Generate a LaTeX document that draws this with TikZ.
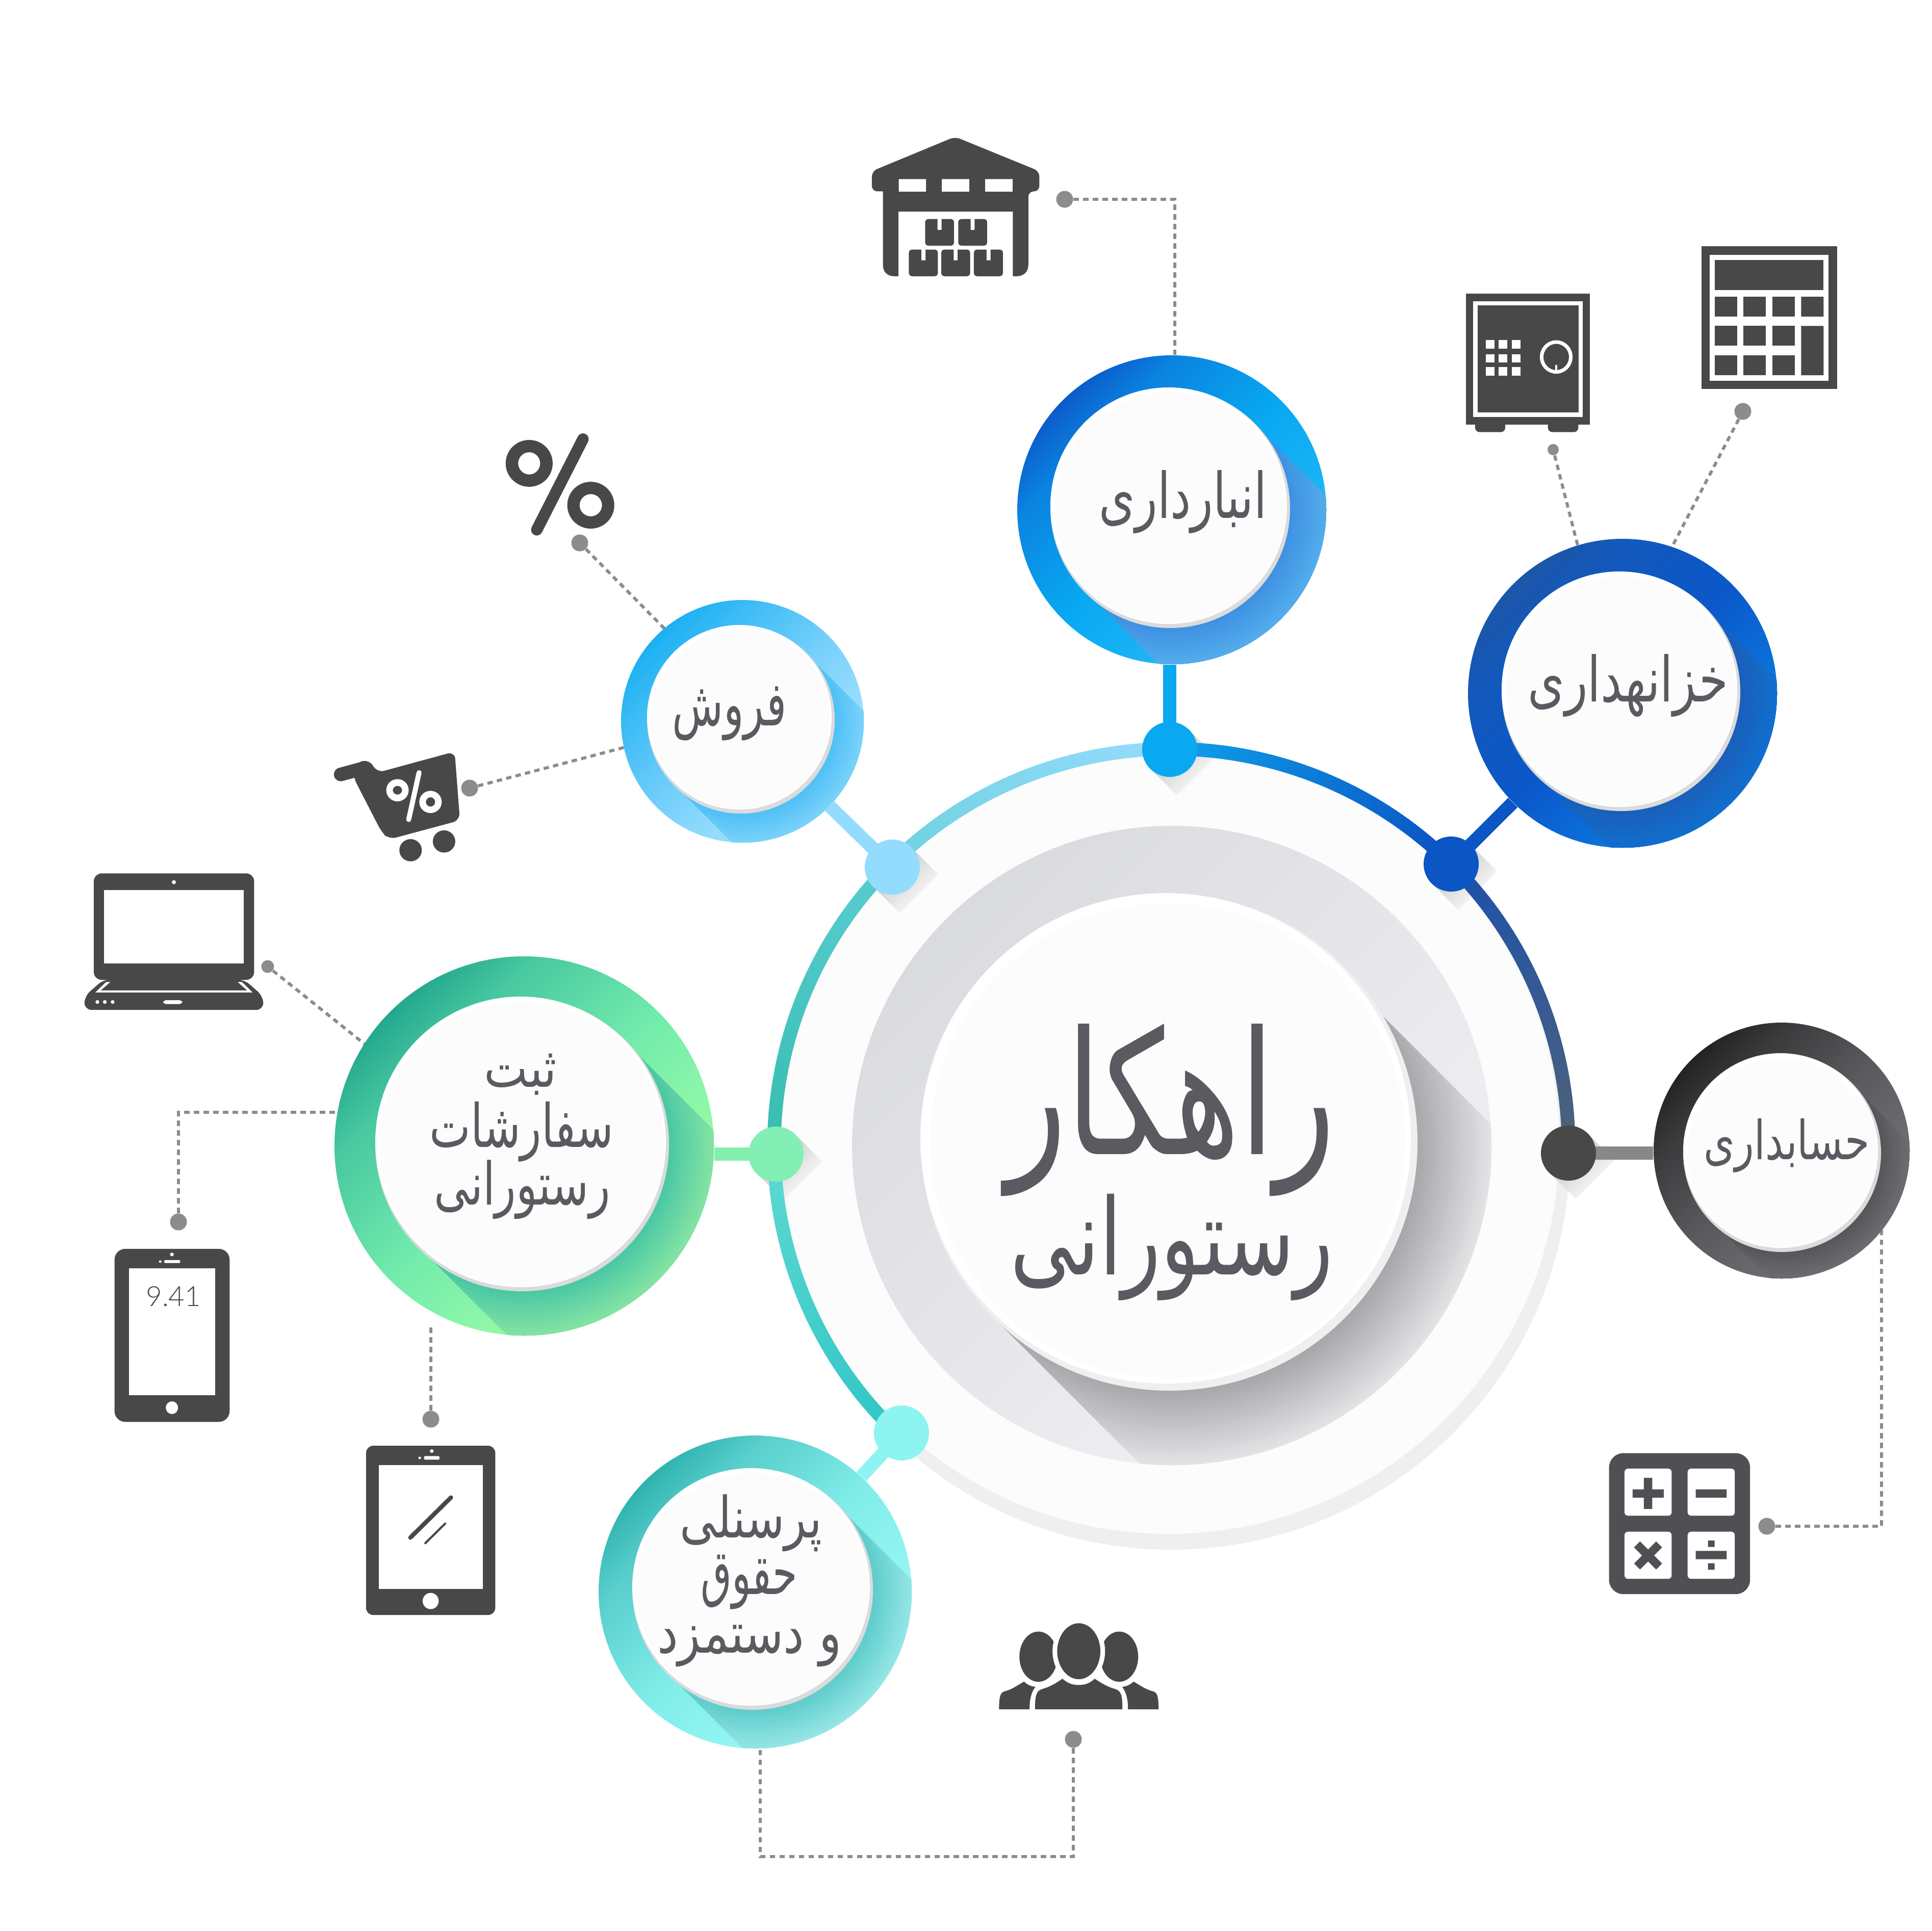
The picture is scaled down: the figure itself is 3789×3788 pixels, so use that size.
\documentclass[tikz,border=0pt]{standalone}
\usepackage{fontspec}
\usetikzlibrary{shapes.geometric}
\TeXXeTstate=1
\newfontfamily\arabicfont[Script=Arabic]{DejaVu Sans}
\newfontfamily\thinfont{Lato Light}
\definecolor{ic}{HTML}{484848}
\definecolor{icb}{HTML}{4F4F54}
\definecolor{dg}{HTML}{8C8C8C}
\definecolor{tx}{HTML}{5A5A60}
\definecolor{shlight}{HTML}{E4E4E6}
\definecolor{shdark}{HTML}{A8A8AA}
\definecolor{plateg}{HTML}{EEEFF1}
\definecolor{platew}{HTML}{FCFCFD}
\definecolor{mida}{HTML}{DADBDF}
\definecolor{midb}{HTML}{F2F2F5}
\definecolor{hubA}{HTML}{0AA8F0}
\definecolor{hubB}{HTML}{0B55C4}
\definecolor{hubC}{HTML}{93DCFD}
\definecolor{hubD}{HTML}{484848}
\definecolor{hubE}{HTML}{82F0B4}
\definecolor{hubF}{HTML}{8EF4F2}
\definecolor{lnkD}{HTML}{888888}
\definecolor{lnkE}{HTML}{82F0AA}
\definecolor{c1a}{HTML}{3ABFF8}\definecolor{c1b}{HTML}{18B2F5}\definecolor{c1c}{HTML}{08A8F2}\definecolor{c1d}{HTML}{0B84E0}\definecolor{c1e}{HTML}{0B5CCB}
\definecolor{c2a}{HTML}{0A86E3}\definecolor{c2b}{HTML}{0B6ED8}\definecolor{c2c}{HTML}{0B58CA}\definecolor{c2d}{HTML}{1358BC}\definecolor{c2e}{HTML}{1C57A8}
\definecolor{c3a}{HTML}{A8E4FF}\definecolor{c3b}{HTML}{94DCFD}\definecolor{c3c}{HTML}{74CFFB}\definecolor{c3d}{HTML}{3ABBF5}\definecolor{c3e}{HTML}{1CB0F2}
\definecolor{c4a}{HTML}{A8F89F}\definecolor{c4b}{HTML}{8DF7A8}\definecolor{c4c}{HTML}{72EBAC}\definecolor{c4d}{HTML}{48C8A0}\definecolor{c4e}{HTML}{24A88E}
\definecolor{c5a}{HTML}{B0F3F1}\definecolor{c5b}{HTML}{90F4F1}\definecolor{c5c}{HTML}{80ECE8}\definecolor{c5d}{HTML}{58CECC}\definecolor{c5e}{HTML}{2FB3AF}
\definecolor{c6a}{HTML}{78787D}\definecolor{c6b}{HTML}{69696D}\definecolor{c6c}{HTML}{5A5A5E}\definecolor{c6d}{HTML}{3A3A3C}\definecolor{c6e}{HTML}{232323}
\newcommand\ringshade[1]{\pgfdeclareverticalshading{ringsh#1}{100bp}{color(0bp)=(c#1a);color(25bp)=(c#1a);color(37.5bp)=(c#1b);color(50bp)=(c#1c);color(66.75bp)=(c#1d);color(75bp)=(c#1e);color(100bp)=(c#1e)}}
\ringshade{1}\ringshade{2}\ringshade{3}\ringshade{4}\ringshade{5}\ringshade{6}
\definecolor{b1a}{HTML}{3D90E2}\definecolor{b1b}{HTML}{5CB8EF}
\definecolor{b2a}{HTML}{1B5FB8}\definecolor{b2b}{HTML}{0C74D8}
\definecolor{b3a}{HTML}{4DBFF5}\definecolor{b3b}{HTML}{8BD9FD}
\definecolor{b4a}{HTML}{48C6A5}\definecolor{b4b}{HTML}{9CF0A2}
\definecolor{b5a}{HTML}{5CCBCB}\definecolor{b5b}{HTML}{A8F0EE}
\definecolor{b6a}{HTML}{55555A}\definecolor{b6b}{HTML}{78787D}
\definecolor{a1}{HTML}{0E9FEA}\definecolor{a2}{HTML}{0B50C0}
\definecolor{a3}{HTML}{1C52AC}\definecolor{a4}{HTML}{4F6278}
\definecolor{a5}{HTML}{6FD2E2}\definecolor{a6}{HTML}{95DCFC}
\definecolor{a7}{HTML}{38BDB0}\definecolor{a8}{HTML}{5ACDD2}
\definecolor{a9}{HTML}{2FC6C5}\definecolor{a0}{HTML}{5FD8D2}
\tikzset{
  px/.style={x=0.01cm,y=-0.01cm},
  bigdot/.style={circle,inner sep=0pt,minimum size=1.08cm},
  smalldot/.style={circle,inner sep=0pt,minimum size=0.33cm,fill=dg},
  dashline/.style={draw=dg,line width=1.7pt,dash pattern=on 3pt off 2.4pt},
  hublink/.style={line width=7.4pt},
  lbl/.style={text=tx,align=center,inner sep=0pt},
}
% width cm, total height cm, text
\newcommand\artext[3]{\resizebox*{#1cm}{#2cm}{\arabicfont\fontsize{30}{36}\selectfont #3}}
% name, cx, cy, R, disc x, disc y, r, shading no., band colour no.
\newcommand\ringdisc[9]{%
  \node[circle,inner sep=0pt,minimum size={2*#4*0.01cm},shade,shading=ringsh#8,shading angle=45] (#1) at (#2,#3) {};
  \begin{scope}
    \clip (#2,#3) circle[radius=#4];
    \clip ({#5+0.7*#7},{#6-0.7*#7}) -- ({#5+0.7*#7+2*#4},{#6-0.7*#7+2*#4}) -- ({#5-0.7*#7+2*#4},{#6+0.7*#7+2*#4}) -- ({#5-0.7*#7},{#6+0.7*#7}) -- cycle;
    \foreach \k in {16,15,...,0}{%
      \pgfmathtruncatemacro\pp{\k*100/16}%
      \fill[b#9b!\pp!b#9a] (#5,#6) circle[radius={#7+(1.12*#4-#7)*\k/16}];
    }
  \end{scope}
  \fill[black!14] (#5,#6) circle[radius=#7];
  \fill[white] ({#5-3},{#6-5}) circle[radius={#7-3}];
  \fill[platew] ({#5-1},{#6-1}) circle[radius={#7-9}];
}
\newcommand\dotshadow[2]{%
  \shade[top color=black!25,bottom color=white,shading angle=45]
    ({#1+38},{#2-38}) -- ({#1+90},{#2+14}) -- ({#1+14},{#2+90}) -- ({#1-38},{#2+38}) -- cycle;
}
% a1, a2, colour a, colour b
\newcommand\gradarc[4]{%
  \foreach \i in {0,...,39}{%
    \pgfmathsetmacro\aa{#1+(#2-#1)*\i/40}%
    \pgfmathsetmacro\ab{#1+(#2-#1)*(\i+1.1)/40}%
    \pgfmathtruncatemacro\pp{\i*100/39}%
    \draw[line width=7.6pt,color=#4!\pp!#3] ({2297+779*cos(\aa)},{2248+779*sin(\aa)}) -- ({2297+779*cos(\ab)},{2248+779*sin(\ab)});
  }%
}
\begin{document}
\begin{tikzpicture}[px]
\useasboundingbox (0,0) rectangle (3789,3788);
\fill[white] (0,0) rectangle (3789,3788);
% plate
\fill[plateg] (2297,2258) circle[radius=782];
\fill[platew] (2292,2243) circle[radius=766];
% mid disc
\shade[top color=mida,bottom color=midb,shading angle=45] (2298,2247) circle[radius=627];
\begin{scope}
  \clip (2298,2247) circle[radius=627];
  \clip (2626,1908) -- (3626,2908) -- (2949,3585) -- (1949,2585) -- cycle;
  \foreach \r in {640,634,...,478}{%
    \pgfmathtruncatemacro\pp{min(100,max(0,(\r-485)*100/145))}%
    \fill[shlight!\pp!shdark] (2298,2247) circle[radius=\r];
  }
\end{scope}
% central disc
\fill[plateg] (2293,2241) circle[radius=487];
\fill[white] (2286,2233) circle[radius=481];
\fill[platew] (2290,2238) circle[radius=466];
\node[lbl] (title1) at (2296,2178) {\artext{6.45}{3.38}{\beginR راهکار\endR}};
\node[lbl] (title2) at (2298,2447) {\artext{6.33}{2.09}{\beginR رستورانی\endR}};
% main arcs
\dotshadow{2294}{1470}
\dotshadow{2846}{1695}
\dotshadow{3076}{2262}
\dotshadow{1750}{1701}
\dotshadow{1522}{2264}
\gradarc{-90}{-45}{a1}{a2}
\gradarc{-45}{1}{a3}{a4}
\gradarc{-135}{-90}{a5}{a6}
\gradarc{179}{225}{a7}{a8}
\gradarc{133}{179}{a9}{a0}
% grey end dots
\node[smalldot] (pW) at (2088,391) {};
\node[smalldot,minimum size=0.22cm] (pS) at (3046,882) {};
\node[smalldot] (pC) at (3418,807) {};
\node[smalldot] (pP) at (1137,1065) {};
\node[smalldot] (pK) at (921,1546) {};
\node[smalldot,minimum size=0.25cm] (pL) at (525,1896) {};
\node[smalldot] (pM) at (350,2397) {};
\node[smalldot] (pT) at (845,2784) {};
\node[smalldot] (pG) at (2105,3412) {};
\node[smalldot] (pH) at (3465,2994) {};
\coordinate (xA) at (2304,720);
\coordinate (xB) at (3098,1085);
\coordinate (xC) at (3270,1090);
\coordinate (xD) at (1310,1240);
\coordinate (xE) at (1240,1462);
\coordinate (xF) at (730,2060);
\coordinate (xG) at (680,2182);
\coordinate (xH) at (845,2600);
\coordinate (xI) at (1491,3400);
\coordinate (xJ) at (3690,2400);
\coordinate (xK) at (1491,3642);
\draw[dashline] (pW) -| (xA);
\draw[dashline] (pS) -- (xB);
\draw[dashline] (pC) -- (xC);
\draw[dashline] (pP) -- (xD);
\draw[dashline] (pK) -- (xE);
\draw[dashline] (pL) -- (xF);
\draw[dashline] (pM) |- (xG);
\draw[dashline] (pT) -- (xH);
\draw[dashline] (pG) |- (xK) -- (xI);
\draw[dashline] (pH) -| (xJ);
% rings
\ringdisc{ringA}{2298}{1000}{303}{2295}{997}{235}{1}{1}
\ringdisc{ringB}{3182}{1360}{303}{3179}{1357}{234}{2}{2}
\ringdisc{ringC}{1456}{1415}{238}{1453}{1412}{184}{3}{3}
\ringdisc{ringD}{1028}{2248}{372}{1024}{2245}{288}{4}{4}
\ringdisc{ringE}{1481}{3123}{307}{1476}{3118}{236}{5}{5}
\ringdisc{ringF}{3494}{2257}{251}{3495}{2262}{194}{6}{6}
% links
\coordinate (cA) at (2294,1470);
\coordinate (cB) at (2846,1695);
\coordinate (cC) at (1750,1701);
\coordinate (cD) at (3076,2262);
\coordinate (cE) at (1522,2264);
\coordinate (cF) at (1768,2811);
\draw[hublink,color=hubA] (cA) -- (cA |- ringA.south);
\draw[hublink,color=hubB] (cB) -- (ringB);
\draw[hublink,color=hubC] (cC) -- (ringC);
\draw[hublink,color=lnkD] (cD) -- (cD -| ringF.west);
\draw[hublink,color=lnkE] (cE) -- (cE -| ringD.east);
\draw[hublink,color=hubF] (cF) -- (ringE);
\node[bigdot,fill=hubA] (dA) at (cA) {};
\node[bigdot,fill=hubB] (dB) at (cB) {};
\node[bigdot,fill=hubC] (dC) at (cC) {};
\node[bigdot,fill=hubD] (dD) at (cD) {};
\node[bigdot,fill=hubE] (dE) at (cE) {};
\node[bigdot,fill=hubF] (dF) at (cF) {};
% labels
\node[lbl] (t1) at (2320,985) {\artext{3.28}{1.24}{\beginR انبارداری\endR}};
\node[lbl] (t2) at (3193,1345) {\artext{3.92}{1.23}{\beginR خزانهداری\endR}};
\node[lbl] (t3) at (1431,1400) {\artext{2.24}{1.06}{\beginR فروش\endR}};
\node[lbl] (t4a) at (1021,2108) {\artext{1.42}{0.81}{\beginR ثبت\endR}};
\node[lbl] (t4b) at (1023,2220) {\artext{3.61}{1.18}{\beginR سفارشات\endR}};
\node[lbl] (t4c) at (1024,2334) {\artext{3.45}{1.16}{\beginR رستورانی\endR}};
\node[lbl] (t5a) at (1473,2988) {\artext{2.78}{1.12}{\beginR پرسنلی\endR}};
\node[lbl] (t5b) at (1469,3104) {\artext{1.89}{1.07}{\beginR حقوق\endR}};
\node[lbl] (t5c) at (1470,3229) {\artext{3.61}{0.82}{\beginR و دستمزد\endR}};
\node[lbl] (t6) at (3504,2247) {\artext{3.24}{1.06}{\beginR حسابداری\endR}};
% warehouse
\begin{scope}[shift={(1650,230)},x=0.003333cm,y=-0.003333cm]
\fill[ic,rounded corners=3pt] (670,115) -- (1167,318) -- (1167,437) -- (1102,437) [sharp corners] -- (1102,870) .. controls (1102,915) and (1070,937) .. (1035,937) -- (1011,937) -- (1011,556) -- (336,556) -- (336,937) -- (310,937) .. controls (275,937) and (245,915) .. (245,870) -- (245,437) [rounded corners=3pt] -- (180,437) -- (180,318) -- cycle;
\fill[white] (338,365) rectangle (499,438) (592,365) rectangle (754,438) (848,365) rectangle (1009,438);
\fill[ic,rounded corners=1.6pt] (494,600) rectangle (664,757);
\fill[ic,rounded corners=1.6pt] (689,600) rectangle (859,757);
\fill[ic,rounded corners=1.6pt] (398,780) rectangle (569,937);
\fill[ic,rounded corners=1.6pt] (589,780) rectangle (759,937);
\fill[ic,rounded corners=1.6pt] (781,780) rectangle (952,937);
\fill[white] (567,595) rectangle (591,664) (762,595) rectangle (785,664) (472,775) rectangle (496,843) (662,775) rectangle (685,843) (856,775) rectangle (879,843);
\end{scope}
% safe and calculator
\begin{scope}[shift={(2820,450)},x=0.005102cm,y=-0.003333cm]
\fill[ic,rounded corners=2.5pt] (143,1130) rectangle (259,1195) (423,1130) rectangle (540,1195);
\fill[ic] (107,378) rectangle (585,1150);
\fill[white] (135,424) rectangle (557,1105);
\fill[ic] (152,449) rectangle (541,1080);
\foreach \c in {184,234,284}\foreach \d in {653,735,811}{\fill[white] (\c,\d) rectangle ++(33,50);}
\draw[white,line width=2pt] (455,752) ellipse[x radius=56,y radius=88];
\draw[white,line width=1.2pt] (455,800) -- (455,835);
\fill[ic] (1013,98) rectangle (1535,942);
\fill[white] (1046,150) rectangle (1502,891);
\fill[ic] (1064,179) rectangle (1483,357);
\foreach \c/\w in {1064/87,1175/86,1287/86}\foreach \d in {397,569,743}{\fill[ic] (\c,\d) rectangle ++(\w,117);}
\fill[ic] (1397,397) rectangle (1483,514) (1397,569) rectangle (1483,860);
\end{scope}
% percent and cart
\begin{scope}[shift={(630,820)},x=0.004146cm,y=-0.00574cm]
\fill[ic,even odd rule] (982,155) ellipse[x radius=111,y radius=80] (982,155) ellipse[x radius=52,y radius=38];
\fill[ic,even odd rule] (1273,298) ellipse[x radius=111,y radius=80] (1273,298) ellipse[x radius=53,y radius=38];
\draw[ic,line width=6.4pt,line cap=round] (1236,72) -- (1018,382);
\draw[ic,line width=7.6pt,line cap=round] (92,1218) -- (205,1196);
\fill[ic,rounded corners=4pt] (160,1180) -- (225,1166) -- (265,1212) -- (630,1140) -- (655,1375) -- (320,1440) -- (285,1415) -- (150,1225) -- cycle;
\fill[white,even odd rule] (360,1272) ellipse[x radius=53,y radius=38] (360,1272) ellipse[x radius=22,y radius=15];
\fill[white,even odd rule] (516,1312) ellipse[x radius=53,y radius=38] (516,1312) ellipse[x radius=22,y radius=16];
\draw[white,line width=2.8pt,line cap=round] (462,1212) -- (413,1372);
\fill[ic] (422,1477) ellipse[x radius=53,y radius=38] (580,1447) ellipse[x radius=53,y radius=38];
\end{scope}
% laptop
\begin{scope}[shift={(130,1680)},x=0.003333cm,y=-0.003333cm]
\fill[ic,rounded corners=4.5pt] (162,100) rectangle (1107,728);
\fill[ic,rounded corners=4pt] (220,725) -- (107,825) -- (107,905) -- (1161,905) -- (1161,825) -- (1047,725) -- cycle;
\fill[white] (221,199) rectangle (1047,632);
\fill[white] (634,152) circle[radius=12];
\fill[white] (235,740) -- (260,740) -- (203,790) -- (1066,790) -- (1010,740) -- (1035,740) -- (1098,802) -- (171,802) -- cycle;
\fill[white] (183,858) circle[radius=11] (227,858) circle[radius=11] (273,858) circle[radius=11];
\fill[white,rounded corners=1.5pt] (571,848) rectangle (684,870);
\end{scope}
% phone and tablet
\begin{scope}[shift={(200,2420)},x=0.00523cm,y=-0.004975cm]
\fill[ic,rounded corners=6pt] (47,60) rectangle (478,742);
\fill[white] (101,137) rectangle (424,637);
\fill[white] (262,686) ellipse[x radius=23,y radius=25];
\fill[white] (262,82) ellipse[x radius=7,y radius=7] (218,110) ellipse[x radius=5,y radius=5];
\fill[white,rounded corners=.6pt] (233,104) rectangle (293,116);
\node[inner sep=0pt,text=ic] (clock) at (268,247) {\thinfont\fontsize{15.5}{18}\selectfont 9.41};
\fill[ic,rounded corners=4pt] (989,836) rectangle (1473,1503);
\fill[white] (1036,912) rectangle (1426,1400);
\fill[white] (1231,1448) ellipse[x radius=30,y radius=32];
\fill[white] (1235,857) ellipse[x radius=7,y radius=7] (1190,884) ellipse[x radius=5,y radius=5];
\fill[white,rounded corners=.6pt] (1206,877) rectangle (1264,891);
\draw[ic,line width=2.4pt,line cap=round] (1155,1198) -- (1307,1040);
\draw[ic,line width=1.2pt,line cap=round] (1211,1220) -- (1285,1143);
\end{scope}
% people
\begin{scope}[shift={(1930,3150)},x=0.003333cm,y=-0.003333cm]
\fill[ic] (320,300) ellipse[x radius=112,y radius=148];
\fill[ic] (796,300) ellipse[x radius=112,y radius=148];
\fill[ic] (88,610) .. controls (88,520) and (100,510) .. (125,503) .. controls (165,493) and (195,470) .. (235,447) .. controls (255,465) and (275,475) .. (302,478) .. controls (278,510) and (268,550) .. (268,610) -- cycle;
\fill[ic] (1028,610) .. controls (1028,520) and (1016,510) .. (991,503) .. controls (951,493) and (921,470) .. (881,447) .. controls (861,465) and (841,475) .. (814,478) .. controls (838,510) and (848,550) .. (848,610) -- cycle;
\draw[white,line width=2.6pt,fill=ic] (558,268) ellipse[x radius=141,y radius=179];
\fill[ic] (300,610) .. controls (300,520) and (310,500) .. (345,490) .. controls (395,475) and (425,455) .. (462,430) .. controls (495,460) and (525,467) .. (558,467) .. controls (591,467) and (620,460) .. (652,430) .. controls (690,455) and (720,475) .. (770,490) .. controls (805,500) and (815,520) .. (815,610) -- cycle;
\end{scope}
% operator calculator
\begin{scope}[shift={(3120,2820)},x=0.003333cm,y=-0.003333cm]
\fill[icb,rounded corners=8pt] (107,92) rectangle (938,923);
\fill[white,rounded corners=2pt] (198,183) rectangle (476,461);
\fill[white,rounded corners=2pt] (570,183) rectangle (848,461);
\fill[white,rounded corners=2pt] (198,555) rectangle (476,833);
\fill[white,rounded corners=2pt] (570,555) rectangle (848,833);
\fill[icb] (246,305) rectangle (429,354) (312,238) rectangle (362,421) (618,305) rectangle (800,354) (618,668) rectangle (800,717) (690,607) rectangle (729,645) (690,741) rectangle (729,779);
\draw[icb,line width=4.7pt] (272,630) -- (402,760) (402,630) -- (272,760);
\end{scope}
\end{tikzpicture}
\end{document}
